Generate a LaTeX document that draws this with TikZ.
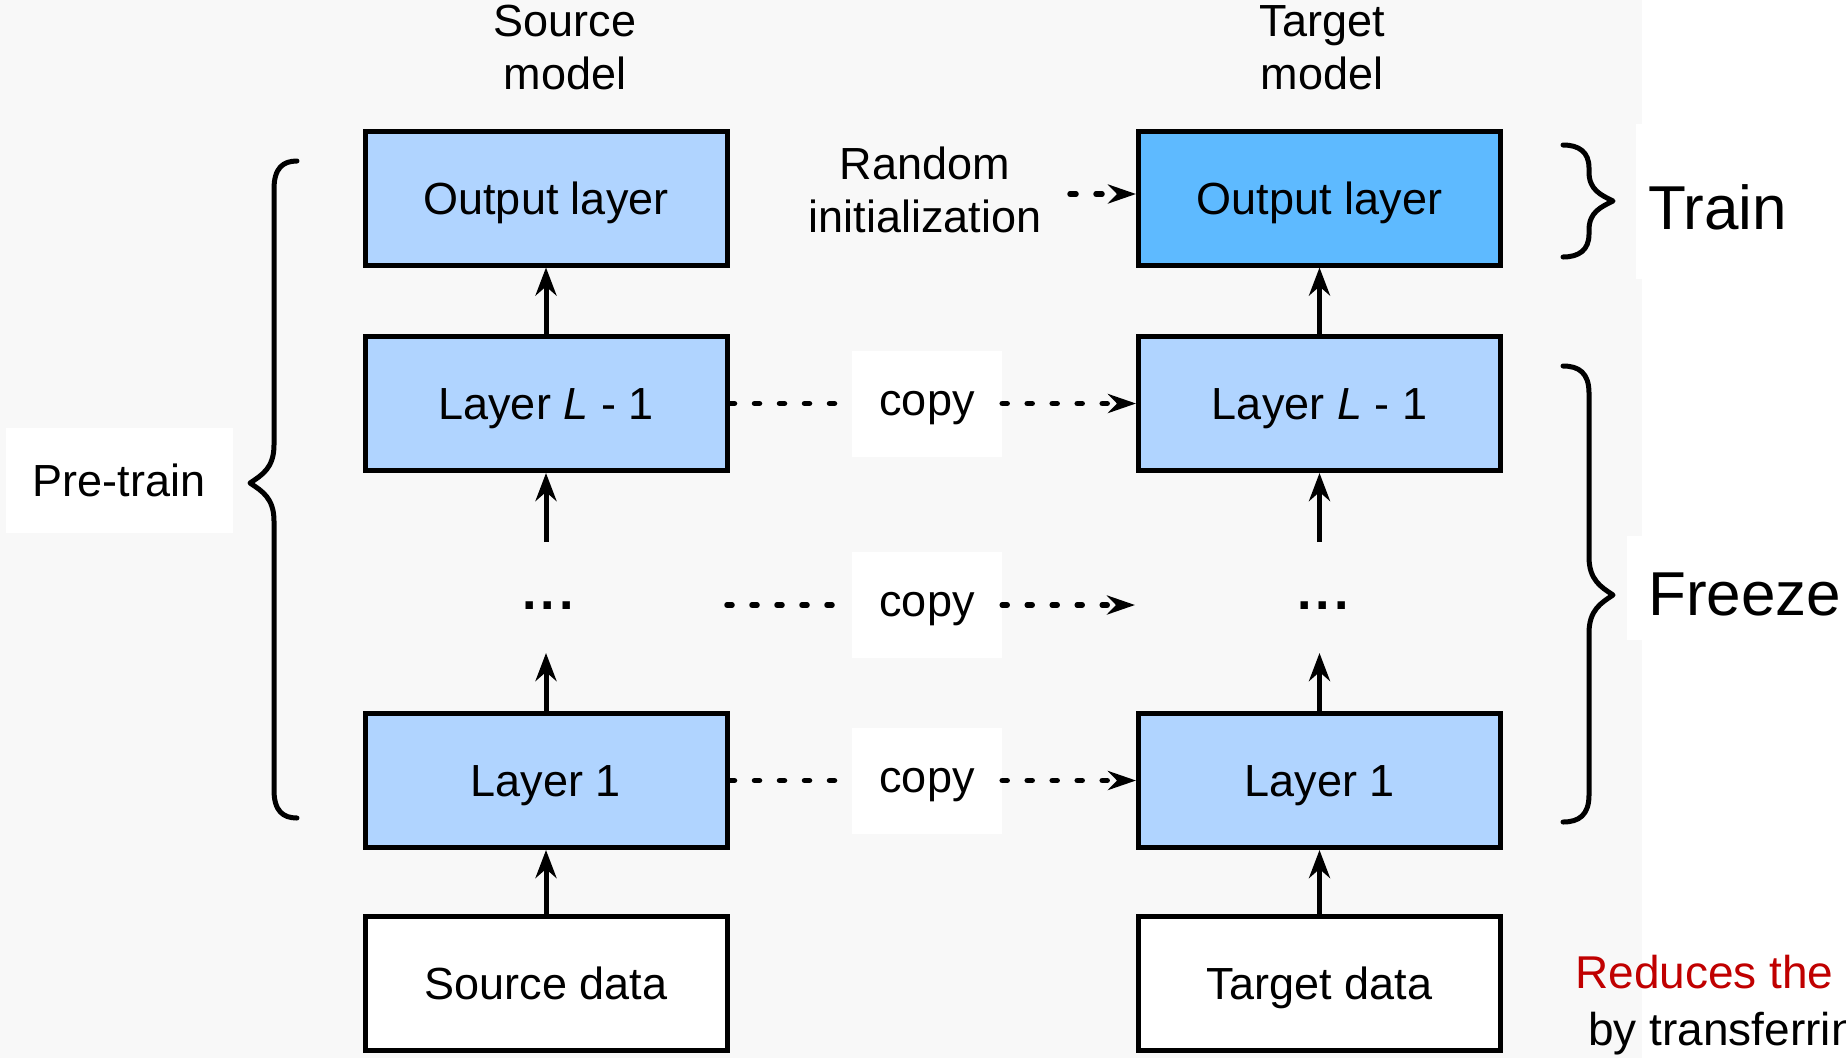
\documentclass[tikz,border=0pt]{standalone}
\usepackage{fontspec}
\setmainfont{Liberation Sans}
\usetikzlibrary{arrows.meta,calc}
\definecolor{bggray}{HTML}{F8F8F8}
\definecolor{layerblue}{HTML}{B0D4FF}
\definecolor{trainblue}{HTML}{5EBAFF}
\definecolor{notered}{HTML}{C00000}
\tikzset{
  every node/.style={font=\fontsize{45}{53}\selectfont, inner sep=0pt},
  layerbox/.style={draw=black, line width=5pt, fill=layerblue,
    minimum width=362pt, minimum height=134pt, text height=32pt, text depth=0pt},
  databox/.style={layerbox, fill=white},
  copybox/.style={fill=white, minimum width=150pt, minimum height=106pt,
    text height=23pt, text depth=0pt},
  dotsym/.style={anchor=base, font=\fontsize{52}{60}\selectfont\bfseries},
  uparrow/.style={line width=5pt, -{Stealth[length=28pt,width=21pt,inset=9pt]}},
  dotline/.style={line width=5.5pt, line cap=round, dash pattern=on 5pt off 20pt},
  dotarrow/.style={dotline, -{Stealth[length=28pt,width=19pt,inset=9pt]}},
  bracepath/.style={line width=5pt, line cap=round, line join=round},
  sidelabel/.style={anchor=base west, font=\fontsize{62}{70}\selectfont},
  notelabel/.style={anchor=base west, font=\fontsize{46}{52}\selectfont},
}
\begin{document}
\begin{tikzpicture}[x=1pt,y=-1pt]
  \path[use as bounding box] (0,0) rectangle (1846,1058);
  \clip (0,0) rectangle (1846,1058);
  % page background
  \fill[bggray] (0,0) rectangle (1642,1058);
  \fill[white] (1642,0) rectangle (1846,1058);

  % column headings
  \node[align=center] (srcm) at (565,48) {Source\\model};
  \node[align=center] (tgtm) at (1322,48) {Target\\model};

  % source model
  \node[layerbox] (sout) at (546,198) {Output layer};
  \node[layerbox] (sl) at (546,403.5) {Layer \textit{L} - 1};
  \node[dotsym] (sdots) at (548,609) {.\kern4pt.\kern4pt.};
  \node[layerbox] (s1) at (546,780.5) {Layer 1};
  \node[databox] (sdata) at (546,983) {Source data};

  % target model
  \node[layerbox, fill=trainblue] (tout) at (1319.5,198) {Output layer};
  \node[layerbox] (tl) at (1319.5,403.5) {Layer \textit{L} - 1};
  \node[dotsym] (tdots) at (1323,609) {.\kern4pt.\kern4pt.};
  \node[layerbox] (t1) at (1319.5,780.5) {Layer 1};
  \node[databox] (tdata) at (1319.5,983) {Target data};

  % ends of the arrows around the dots
  \coordinate (sdb) at (546,653);
  \coordinate (sdt) at (546,542);
  \coordinate (tdb) at (1319.5,653);
  \coordinate (tdt) at (1319.5,542);

  % forward arrows
  \draw[uparrow] (sdata) -- (s1);
  \draw[uparrow] (s1) -- (sdb);
  \draw[uparrow] (sdt) -- (sl);
  \draw[uparrow] (sl) -- (sout);
  \draw[uparrow] (tdata) -- (t1);
  \draw[uparrow] (t1) -- (tdb);
  \draw[uparrow] (tdt) -- (tl);
  \draw[uparrow] (tl) -- (tout);

  % parameter transfer
  \node[copybox] (c1) at (927,403.5) {copy};
  \node[copybox] (c2) at (927,605) {copy};
  \node[copybox] (c3) at (927,780.5) {copy};
  \coordinate (dl) at (727,605);
  \coordinate (dr) at (1135,605);
  \draw[dotline] (sl.east) -- (c1.west);
  \draw[dotarrow] (c1.east) -- (tl.west);
  \draw[dotline] (dl) -- (c2.west);
  \draw[dotarrow] (c2.east) -- (dr);
  \draw[dotline] (s1.east) -- (c3.west);
  \draw[dotarrow] (c3.east) -- (t1.west);

  % random initialization of the new output layer
  \node[align=center] (rinit) at (925,189.5) {Random\\initialization};
  \coordinate (ri) at (1070,194);
  \draw[dotarrow, dash pattern=on 6pt off 20pt] (ri) -- (ri -| tout.west);

  % pre-training brace
  \node[fill=white, minimum width=227pt, minimum height=105pt,
    text height=32pt, text depth=0pt] (pre) at (119,480) {Pre-train};
  \draw[bracepath] (297,161) .. controls (283,161) and (274,168) .. (274,189)
    -- (274,445) .. controls (274,468) and (262,475) .. (250,483)
    .. controls (262,491) and (274,498) .. (274,521)
    -- (274,790) .. controls (274,811) and (283,818) .. (297,818);

  % training / freezing braces
  \draw[bracepath] (1563,145) .. controls (1579,145) and (1589,152) .. (1589,168)
    -- (1589,172) .. controls (1589,190) and (1601,195) .. (1613,201)
    .. controls (1601,207) and (1589,212) .. (1589,230)
    -- (1589,234) .. controls (1589,250) and (1579,257) .. (1563,257);
  \draw[bracepath] (1563,366) .. controls (1579,366) and (1589,373) .. (1589,393)
    -- (1589,557) .. controls (1589,580) and (1601,587) .. (1613,595)
    .. controls (1601,603) and (1589,610) .. (1589,633)
    -- (1589,795) .. controls (1589,815) and (1579,822) .. (1563,822);
  \fill[white] (1636,124) rectangle (1846,279);
  \node[sidelabel] (train) at (1648,229) {Train};
  \fill[white] (1627,536) rectangle (1846,640);
  \node[sidelabel] (freeze) at (1648,615) {Freeze};

  % note
  \node[notelabel, text=notered] (note1) at (1575,988) {Reduces the};
  \node[notelabel] (note2) at (1588,1045) {by transferring};
\end{tikzpicture}
\end{document}
